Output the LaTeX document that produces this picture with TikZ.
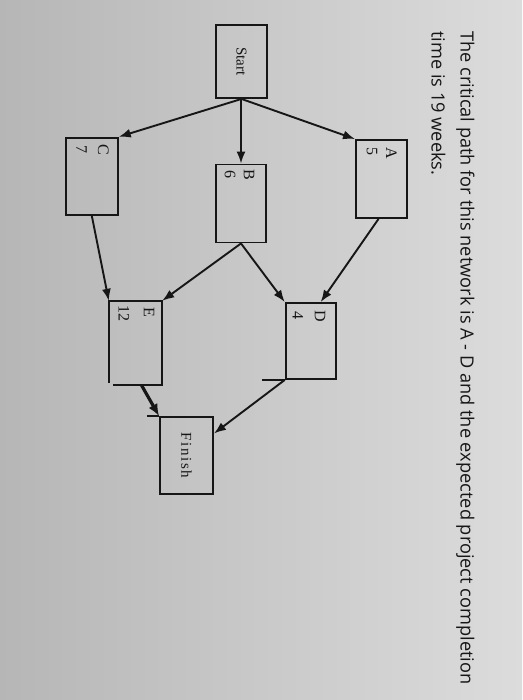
\documentclass[tikz,border=0pt]{standalone}
\usepackage{fontspec}
\setmainfont{Liberation Serif}
\newfontfamily\headfont{Open Sans}
\usetikzlibrary{arrows.meta}
\definecolor{bgl}{RGB}{182,182,182}
\definecolor{bgr}{RGB}{220,220,220}
\definecolor{ink}{RGB}{22,22,22}
\tikzset{
  box/.style={draw=ink, line width=1.9pt, minimum width=#1, inner sep=0pt},
  lbl/.style={rotate=-90, inner sep=0pt, text=ink, font=\fontsize{16}{18}\selectfont},
  head/.style={rotate=-90, inner sep=0pt, anchor=base west, text=ink, font=\headfont\fontsize{18.2}{21}\selectfont},
  conn/.style={draw=ink, line width=1.9pt, -{Latex[length=12pt,width=9pt]}},
  thick conn/.style={draw=ink, line width=3.2pt, -{Latex[length=12pt,width=10pt]}},
  edge line/.style={draw=ink, line width=1.9pt}
}
\begin{document}
\begin{tikzpicture}[x=1pt,y=-1pt]
\shade[left color=bgl, right color=bgr] (0,0) rectangle (522,700);
\useasboundingbox (0,0) rectangle (522,700);

% heading text
\node[head] (t1) at (460.7,31) {The critical path for this network is A - D and the expected project completion};
\node[head] (t2) at (431.7,31) {time is 19 weeks.};

% boxes
\node[box=51pt, minimum height=73pt] (S) at (241.5,61.5) {};
\node[box=51pt, minimum height=78pt] (A) at (381.5,179) {};
\node[box=50pt, minimum height=78pt] (B) at (241,203.5) {};
\node[box=52pt, minimum height=77pt] (C) at (91.8,176.3) {};
\node[box=50pt, minimum height=76pt] (D) at (310.7,341) {};
\node[inner sep=0pt, minimum width=53pt, minimum height=84pt] (E) at (135.5,343) {};
\node[box=53pt, minimum height=77pt] (F) at (186.5,455.5) {};

% E box outline with open corner
\draw[edge line] ([yshift=2pt]E.south west) -- (E.north west) -- (E.north east) -- (E.south east) -- ([xshift=4pt]E.south west);
% stray extensions
\draw[edge line] (D.south west) -- ++(-23,0);
\draw[edge line] (F.north west) -- ++(-12,0);

% labels
\node[lbl, font=\fontsize{15}{17}\selectfont] (sl) at (S.center) {Start};
\node[lbl, font=\addfontfeature{LetterSpace=10}\fontsize{15}{17}\selectfont] (fl) at (F.center) {Finish};
\node[lbl] (al) at (391.5,153) {A};
\node[lbl] (an) at (372,152) {5};
\node[lbl] (bl) at (249,175) {B};
\node[lbl] (bn) at (230,175) {6};
\node[lbl] (cl) at (103.3,150) {C};
\node[lbl] (cn) at (81.7,150) {7};
\node[lbl] (dl) at (320,316) {D};
\node[lbl] (dn) at (298,315) {4};
\node[lbl] (el) at (149,312) {E};
\node[lbl] (en) at (124,313) {12};

% connectors
\draw[conn] (S.south) -- (A.north west);
\draw[conn] (S.south -| B.north) -- (B.north);
\draw[conn] (S.south) -- (C.north east);
\draw[conn] ([xshift=-3pt]A.south) -- ([xshift=10pt]D.north);
\draw[conn] (B.south) -- (D.north west);
\draw[conn] (B.south) -- (E.north east);
\draw[conn] (C.south) -- (E.north west);
\draw[conn] (D.south west) -- ([yshift=22pt]F.east);
\draw[thick conn] ([xshift=6pt]E.south) -- (F.north west);
\end{tikzpicture}
\end{document}
